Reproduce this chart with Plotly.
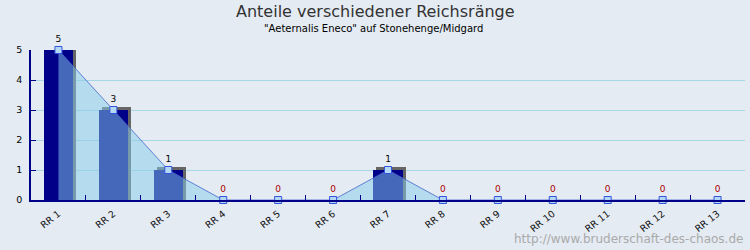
import plotly.graph_objects as go

categories = ["RR 1", "RR 2", "RR 3", "RR 4", "RR 5", "RR 6", "RR 7",
              "RR 8", "RR 9", "RR 10", "RR 11", "RR 12", "RR 13"]
values = [5, 3, 1, 0, 0, 0, 1, 0, 0, 0, 0, 0, 0]
y_ticks = [0, 1, 2, 3, 4, 5]

title = "Anteile verschiedener Reichsränge"
subtitle = "\"Aeternalis Eneco\" auf Stonehenge/Midgard"
watermark = "http://www.bruderschaft-des-chaos.de"

BG = "#e4ebf3"
NAVY = "#000088"
BAR_W = 0.53
SHIFT = 0.055  # shadow offset in category units (~3px)

shadow_vals = [v + 0.1 if v > 0 else 0 for v in values]
label_colors = ["#000000" if v > 0 else "#aa0000" for v in values]

fig = go.Figure()

fig.add_trace(go.Bar(
    x=categories, y=shadow_vals, width=BAR_W, offset=-BAR_W / 2 + SHIFT,
    marker=dict(color="#666666", line=dict(width=0)),
    cliponaxis=False, hoverinfo="skip", showlegend=False,
))
fig.add_trace(go.Bar(
    x=categories, y=values, width=BAR_W, offset=-BAR_W / 2,
    marker=dict(color=NAVY, line=dict(width=0)),
    cliponaxis=False, showlegend=False,
))
fig.add_trace(go.Scatter(
    x=categories, y=values, mode="lines+markers+text",
    fill="tozeroy", fillcolor="rgba(135,204,236,0.51)",
    line=dict(color="#4466cc", width=0.8),
    marker=dict(symbol="square", size=7, color="#b4d8f4",
                line=dict(color="#3355dd", width=1)),
    text=[str(v) for v in values], textposition="top center",
    textfont=dict(family="DejaVu Sans", size=9, color=label_colors),
    cliponaxis=False, showlegend=False,
))

PLOT_H = 250 - 50 - 50
PLOT_W = 750 - 31 - 5

fig.update_layout(
    width=750, height=250,
    margin=dict(l=31, r=5, t=50, b=50),
    paper_bgcolor=BG, plot_bgcolor=BG,
    barmode="overlay", bargap=0,
    font=dict(family="DejaVu Sans", size=10, color="#000000"),
    xaxis=dict(
        type="category", showgrid=False, zeroline=False,
        showline=True, linecolor=NAVY, linewidth=1.5,
        ticks="inside", tickson="boundaries", ticklen=5, tickcolor=NAVY,
        tickangle=-38, tickfont=dict(size=9.5, color="#111111"),
        ticklabelstandoff=3,
        range=[-0.5, len(categories) - 0.5],
    ),
    yaxis=dict(
        range=[0, 5], tickvals=y_ticks, showgrid=True, gridcolor="#a8d8e6",
        gridwidth=1, zeroline=False, showline=True, linecolor=NAVY,
        linewidth=1.5, ticks="inside", ticklen=5, tickcolor=NAVY,
        tickfont=dict(size=9.5, color="#000000"), ticklabelstandoff=5,
    ),
    annotations=[
        dict(text=title, x=(375 - 31) / PLOT_W, xref="paper",
             y=1 + (50 - 12) / PLOT_H, yref="paper",
             yanchor="middle", showarrow=False,
             font=dict(family="DejaVu Sans", size=16, color="#333333")),
        dict(text=subtitle, x=(373 - 31) / PLOT_W, xref="paper",
             y=1 + (50 - 29) / PLOT_H, yref="paper",
             yanchor="middle", showarrow=False,
             font=dict(family="DejaVu Sans", size=10, color="#000000")),
        dict(text=watermark, x=1.0, xref="paper", xanchor="right",
             y=-(50 - 2) / PLOT_H, yref="paper", yanchor="bottom",
             showarrow=False,
             font=dict(family="DejaVu Sans", size=12, color="#aaaaaa")),
    ],
)

fig.write_html("out.html")
